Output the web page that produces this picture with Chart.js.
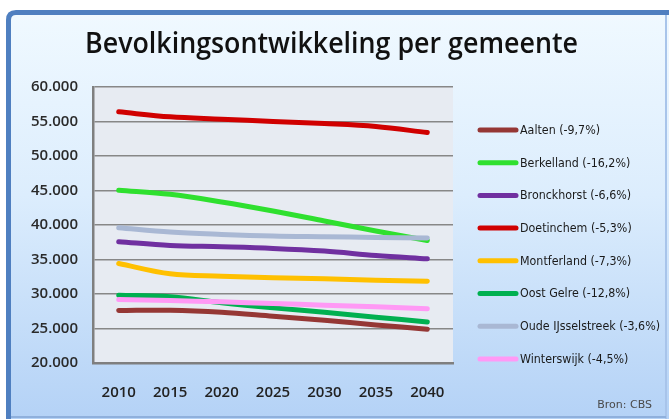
<!DOCTYPE html>
<html>
<head>
<meta charset="utf-8">
<script src="https://cdn.jsdelivr.net/npm/chart.js@4.4.0/dist/chart.umd.min.js"></script>
<style>
  html, body { margin: 0; padding: 0; background: #fff; }
  #wrap { width: 669px; height: 419px; }
</style>
</head>
<body>
<div id="wrap"><canvas id="popChart" width="669" height="419"></canvas></div>
<script>
const title = 'Bevolkingsontwikkeling per gemeente';
const source = 'Bron: CBS';

const years = ['2010', '2015', '2020', '2025', '2030', '2035', '2040'];

const gemeenten = ['Aalten', 'Berkelland', 'Bronckhorst', 'Doetinchem', 'Montferland', 'Oost Gelre', 'Oude IJsselstreek', 'Winterswijk'];
const changes = ['-9,7%', '-16,2%', '-6,6%', '-5,3%', '-7,3%', '-12,8%', '-3,6%', '-4,5%'];
const colors = ['#953735', '#2fe02f', '#7030a0', '#d00000', '#ffc000', '#00b050', '#a9b8d4', '#ff99f5'];

const aalten = [27600, 27650, 27360, 26780, 26200, 25520, 24900];
const berkelland = [45050, 44450, 43340, 42030, 40580, 39130, 37750];
const bronckhorst = [37580, 37040, 36850, 36610, 36220, 35590, 35100];
const doetinchem = [56400, 55680, 55340, 55000, 54700, 54270, 53400];
const montferland = [34420, 32920, 32580, 32340, 32200, 32000, 31850];
const oostGelre = [29830, 29590, 28720, 27990, 27360, 26640, 25950];
const oudeIJsselstreek = [39610, 38980, 38640, 38400, 38300, 38200, 38120];
const winterswijk = [29200, 29050, 28860, 28620, 28380, 28140, 27850];

const series = [aalten, berkelland, bronckhorst, doetinchem, montferland, oostGelre, oudeIJsselstreek, winterswijk];

const yMin = 20000, yMax = 60000, yStep = 5000;

function fmt(v) {
  return String(v).replace(/\B(?=(\d{3})+(?!\d))/g, '.');
}

// frame, plot background, title, legend and source note
const decor = {
  id: 'decor',
  beforeDraw(chart) {
    const ctx = chart.ctx, a = chart.chartArea;
    ctx.save();
    ctx.fillStyle = '#ffffff';
    ctx.fillRect(0, 0, chart.width, chart.height);
    const g = ctx.createLinearGradient(0, 12, 0, 419);
    g.addColorStop(0, '#f0f9ff');
    g.addColorStop(0.45, '#dcedfd');
    g.addColorStop(1, '#b4d2f6');
    ctx.fillStyle = g;
    ctx.beginPath();
    ctx.moveTo(8, 419);
    ctx.lineTo(8, 20);
    ctx.quadraticCurveTo(8, 12, 16, 12);
    ctx.lineTo(669, 12);
    ctx.lineTo(669, 419);
    ctx.closePath();
    ctx.fill();
    // blue border left + top
    ctx.strokeStyle = '#4f7fc0';
    ctx.lineWidth = 5;
    ctx.beginPath();
    ctx.moveTo(8.5, 419);
    ctx.lineTo(8.5, 20);
    ctx.quadraticCurveTo(8.5, 12.5, 16, 12.5);
    ctx.lineTo(669, 12.5);
    ctx.stroke();
    ctx.strokeStyle = '#a8c4ea';
    ctx.lineWidth = 2;
    ctx.beginPath();
    ctx.moveTo(666, 15);
    ctx.lineTo(666, 419);
    ctx.stroke();
    ctx.strokeStyle = '#8fb0dc';
    ctx.lineWidth = 2;
    ctx.beginPath();
    ctx.moveTo(11, 417);
    ctx.lineTo(666, 417);
    ctx.stroke();
    // plot area
    ctx.fillStyle = '#e7ebf2';
    ctx.fillRect(a.left, a.top, a.right - a.left, a.bottom - a.top);
    ctx.restore();
  },
  afterDraw(chart) {
    const ctx = chart.ctx;
    ctx.save();
    // title
    ctx.fillStyle = '#111';
    ctx.font = '600 28px "Open Sans", sans-serif';
    ctx.textBaseline = 'alphabetic';
    ctx.textAlign = 'left';
    let w = ctx.measureText(title).width;
    let sx = 493 / w;
    ctx.save();
    ctx.translate(85, 53);
    ctx.scale(sx, 1);
    ctx.fillText(title, 0, 0);
    ctx.restore();

    // legend
    ctx.font = '13px "Liberation Sans Narrow", "DejaVu Sans Condensed", sans-serif';
    const labels = chart.data.datasets.map(d => d.label);
    const longest = labels.reduce((m, l) => Math.max(m, ctx.measureText(l).width), 0);
    const ls = 140 / longest;
    ctx.textBaseline = 'middle';
    chart.data.datasets.forEach((d, i) => {
      const y = 130 + i * 32.7;
      ctx.strokeStyle = d.borderColor;
      ctx.lineWidth = 5;
      ctx.lineCap = 'round';
      ctx.beginPath();
      ctx.moveTo(480, y);
      ctx.lineTo(516, y);
      ctx.stroke();
      ctx.fillStyle = '#1a1a1a';
      ctx.save();
      ctx.translate(520, y + 0.5);
      ctx.scale(ls, 1);
      ctx.fillText(d.label, 0, 0);
      ctx.restore();
    });

    // source
    ctx.font = '11px "DejaVu Sans", sans-serif';
    ctx.fillStyle = '#4a4a4a';
    ctx.textAlign = 'right';
    ctx.fillText(source, 652, 405);
    ctx.restore();
  }
};

const ctx = document.getElementById('popChart').getContext('2d');
new Chart(ctx, {
  type: 'line',
  data: {
    labels: years,
    datasets: gemeenten.map((name, i) => ({
      label: name + ' (' + changes[i] + ')',
      data: series[i],
      borderColor: colors[i],
      backgroundColor: colors[i],
      borderWidth: 5,
      borderCapStyle: 'round',
      borderJoinStyle: 'round',
      pointRadius: 0,
      tension: 0.35,
      fill: false,
      order: gemeenten.length - i
    }))
  },
  options: {
    responsive: false,
    animation: false,
    layout: { padding: { left: 12, top: 87, right: 216, bottom: 16 } },
    plugins: {
      legend: { display: false },
      title: { display: false },
      tooltip: { enabled: false }
    },
    scales: {
      x: {
        offset: true,
        afterFit: s => { s.height = 40; },
        grid: { display: false },
        border: { display: true, color: '#7f7f7f', width: 2.5 },
        ticks: { color: '#222', padding: 13, font: { family: 'Open Sans', size: 15, weight: '600' } }
      },
      y: {
        min: yMin,
        max: yMax,
        afterFit: s => { s.width = 81; },
        grid: { color: '#878787', lineWidth: 1.5, drawTicks: false },
        border: { display: true, color: '#7f7f7f', width: 2.5 },
        ticks: {
          stepSize: yStep,
          color: '#2a2a2a',
          padding: 15,
          font: { family: 'Open Sans', size: 15, weight: '600' },
          callback: v => fmt(v)
        }
      }
    }
  },
  plugins: [decor]
});
</script>
</body>
</html>
